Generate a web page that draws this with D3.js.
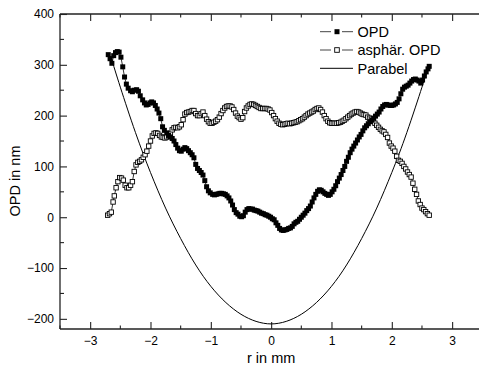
<!DOCTYPE html>
<html>
<head>
<meta charset="utf-8">
<script src="https://cdn.jsdelivr.net/npm/d3@7"></script>
<style>
  body { margin: 0; background: #fff; }
  svg { display: block; font-family: "Liberation Sans", Arial, sans-serif; }
</style>
</head>
<body>
<svg id="chart" width="479" height="369"></svg>
<script>
// Données : [r en mm, OPD en nm]
const opd = [
  [-2.70,320],[-2.67,312],[-2.64,303],[-2.61,318],[-2.58,324],[-2.55,326],[-2.52,325],[-2.49,315],
  [-2.46,296],[-2.43,276],[-2.40,262],[-2.37,254],[-2.33,249],[-2.30,247],[-2.27,250],[-2.23,251],
  [-2.20,248],[-2.17,239],[-2.13,231],[-2.10,225],[-2.07,221],[-2.04,222],[-2.01,225],[-1.98,227],
  [-1.95,225],[-1.92,220],[-1.89,213],[-1.86,205],[-1.83,194],[-1.80,178],[-1.77,171],[-1.73,166],
  [-1.70,161],[-1.67,158],[-1.64,155],[-1.61,150],[-1.58,143],[-1.55,136],[-1.52,131],[-1.49,130],
  [-1.46,134],[-1.43,137],[-1.40,135],[-1.37,131],[-1.34,127],[-1.31,123],[-1.28,117],[-1.25,104],
  [-1.22,96],[-1.19,92],[-1.16,88],[-1.13,83],[-1.10,72],[-1.07,60],[-1.04,52],[-1.01,48],
  [-0.97,45],[-0.94,44],[-0.91,45],[-0.88,46],[-0.85,47],[-0.82,47],[-0.79,46],[-0.76,45],
  [-0.73,42],[-0.70,38],[-0.67,32],[-0.64,24],[-0.61,15],[-0.58,9],[-0.55,6],[-0.52,2],
  [-0.49,1],[-0.46,3],[-0.43,10],[-0.40,15],[-0.37,17],[-0.34,16],[-0.31,16],[-0.28,14],
  [-0.25,13],[-0.22,12],[-0.19,10],[-0.16,8],[-0.13,7],[-0.10,5],[-0.07,4],[-0.04,2],
  [-0.01,0],[0.02,-3],[0.05,-5],[0.08,-11],[0.11,-16],[0.14,-22],[0.17,-25],[0.20,-26],
  [0.23,-25],[0.26,-24],[0.29,-22],[0.32,-21],[0.35,-18],[0.38,-13],[0.41,-10],[0.44,-8],
  [0.47,-4],[0.50,0],[0.53,4],[0.56,8],[0.59,13],[0.62,17],[0.65,22],[0.68,30],
  [0.71,38],[0.74,45],[0.77,51],[0.80,54],[0.83,53],[0.86,50],[0.89,47],[0.92,45],
  [0.95,43],[0.98,45],[1.01,50],[1.04,55],[1.07,62],[1.10,70],[1.13,77],[1.16,84],
  [1.19,92],[1.22,100],[1.25,110],[1.28,118],[1.31,127],[1.34,134],[1.37,140],[1.40,146],
  [1.43,152],[1.46,158],[1.49,163],[1.52,170],[1.55,176],[1.58,180],[1.61,184],[1.64,188],
  [1.67,191],[1.70,195],[1.73,199],[1.76,203],[1.79,207],[1.82,213],[1.85,218],[1.88,221],
  [1.91,222],[1.94,221],[1.97,220],[2.00,220],[2.03,221],[2.06,223],[2.09,226],[2.12,233],
  [2.15,243],[2.18,252],[2.21,256],[2.24,258],[2.27,260],[2.30,264],[2.33,268],[2.36,271],
  [2.39,272],[2.42,270],[2.45,268],[2.48,264],[2.51,270],[2.54,278],[2.57,286],[2.60,292],
  [2.62,297]
];

const asphOpd = [
  [-2.71,4],[-2.68,7],[-2.65,10],[-2.62,30],[-2.60,42],[-2.57,58],[-2.54,70],[-2.51,78],
  [-2.48,77],[-2.45,73],[-2.42,63],[-2.39,58],[-2.36,58],[-2.33,63],[-2.30,70],[-2.27,90],
  [-2.24,103],[-2.21,108],[-2.18,110],[-2.15,113],[-2.12,118],[-2.09,123],[-2.06,130],[-2.03,140],
  [-2.00,150],[-1.97,160],[-1.94,165],[-1.91,166],[-1.88,165],[-1.85,161],[-1.82,158],[-1.79,157],
  [-1.76,156],[-1.73,158],[-1.70,160],[-1.67,165],[-1.64,172],[-1.61,176],[-1.58,177],[-1.55,176],
  [-1.52,178],[-1.49,182],[-1.46,192],[-1.43,203],[-1.40,206],[-1.37,207],[-1.34,208],[-1.31,210],
  [-1.28,210],[-1.25,204],[-1.22,200],[-1.19,200],[-1.16,204],[-1.13,207],[-1.10,200],[-1.07,193],
  [-1.04,188],[-1.01,185],[-0.98,185],[-0.95,187],[-0.92,189],[-0.89,192],[-0.86,197],[-0.83,204],
  [-0.80,210],[-0.77,215],[-0.74,218],[-0.71,219],[-0.68,219],[-0.65,217],[-0.62,212],[-0.59,205],
  [-0.56,199],[-0.53,196],[-0.50,193],[-0.47,196],[-0.44,208],[-0.41,215],[-0.38,219],[-0.35,222],
  [-0.32,223],[-0.29,222],[-0.26,220],[-0.23,218],[-0.20,216],[-0.17,214],[-0.14,214],[-0.11,214],
  [-0.08,214],[-0.05,213],[-0.02,211],[0.01,206],[0.04,200],[0.07,194],[0.10,189],[0.13,185],
  [0.16,183],[0.19,182],[0.22,183],[0.25,184],[0.28,185],[0.31,184],[0.34,185],[0.37,186],
  [0.40,187],[0.43,188],[0.46,190],[0.49,192],[0.52,194],[0.55,197],[0.58,200],[0.61,203],
  [0.64,205],[0.67,207],[0.70,209],[0.73,212],[0.76,214],[0.79,215],[0.82,212],[0.85,207],
  [0.88,200],[0.91,194],[0.94,189],[0.97,186],[1.00,185],[1.03,185],[1.06,185],[1.09,185],
  [1.12,186],[1.15,187],[1.18,189],[1.21,191],[1.24,194],[1.27,197],[1.30,200],[1.33,203],
  [1.36,205],[1.39,207],[1.42,208],[1.45,207],[1.48,205],[1.51,203],[1.54,202],[1.57,201],
  [1.60,197],[1.63,195],[1.66,193],[1.69,189],[1.72,185],[1.75,181],[1.78,177],[1.81,173],
  [1.84,170],[1.87,168],[1.90,163],[1.93,157],[1.96,146],[1.99,140],[2.02,136],[2.05,130],
  [2.08,120],[2.11,112],[2.14,110],[2.17,106],[2.20,100],[2.23,95],[2.26,89],[2.29,84],
  [2.32,79],[2.35,67],[2.38,55],[2.41,45],[2.44,32],[2.47,25],[2.50,18],[2.53,15],
  [2.56,11],[2.59,7],[2.62,4]
];

const parabel = [
  [-2.66,317],[-2.5,256],[-2.25,167],[-2.0,88],[-1.75,18],[-1.5,-42],[-1.25,-94],[-1.0,-136],
  [-0.75,-168],[-0.5,-191],[-0.25,-205],[0,-210],[0.25,-205],[0.5,-191],[0.75,-168],[1.0,-136],
  [1.25,-94],[1.5,-42],[1.75,18],[2.0,88],[2.25,167],[2.5,256],[2.58,286]
];

const xTicks = [-3, -2, -1, 0, 1, 2, 3];
const yTicks = [-200, -100, 0, 100, 200, 300, 400];
const legendLabels = ["OPD", "asphär. OPD", "Parabel"];

const svg = d3.select("#chart");
const mLeft = 60, mTop = 14, mBottom = 329;

const x = d3.scaleLinear().domain([-3.5, 3.5]).range([mLeft, mLeft + 422.3]);
const y = d3.scaleLinear().domain([-220, 400]).range([mBottom, mTop]);

const axisColor = "#222";

// Axes (graduations vers l'intérieur)
const xMinor = d3.range(-3.5, 3.51, 0.5);
const yMinor = d3.range(-200, 401, 50);

const gBottom = svg.append("g").attr("transform", `translate(0,${mBottom})`)
  .call(d3.axisBottom(x).tickValues(xTicks).tickSize(-7).tickPadding(7).tickFormat(d3.format("d")));
const gTop = svg.append("g").attr("transform", `translate(0,${mTop})`)
  .call(d3.axisTop(x).tickValues(xTicks).tickSize(-7).tickFormat(""));
const gLeft = svg.append("g").attr("transform", `translate(${mLeft},0)`)
  .call(d3.axisLeft(y).tickValues(yTicks).tickSize(-7).tickPadding(6).tickFormat(d3.format("d")));

[gBottom, gTop, gLeft].forEach(g => {
  g.select(".domain").attr("stroke", axisColor).attr("stroke-width", 1.3);
  g.selectAll(".tick line").attr("stroke", axisColor).attr("stroke-width", 1.1);
  g.selectAll(".tick text").attr("fill", "#000").attr("font-size", 12)
    .attr("font-family", "Liberation Sans, Arial, sans-serif");
});
gBottom.select(".domain").attr("d", `M${mLeft},0H479`);
gTop.select(".domain").attr("d", `M${mLeft},0H479`);
gLeft.select(".domain").attr("d", `M0,${mTop}V${mBottom}`);

// graduations secondaires
const xMinorOnly = xMinor.filter(v => !xTicks.includes(v));
svg.append("g").selectAll("line")
  .data(xMinorOnly)
  .join("line")
  .attr("x1", d => x(d)).attr("x2", d => x(d))
  .attr("y1", mBottom).attr("y2", mBottom - 3.5)
  .attr("stroke", axisColor).attr("stroke-width", 1.1);
svg.append("g").selectAll("line")
  .data(xMinorOnly)
  .join("line")
  .attr("x1", d => x(d)).attr("x2", d => x(d))
  .attr("y1", mTop).attr("y2", mTop + 3.5)
  .attr("stroke", axisColor).attr("stroke-width", 1.1);
svg.append("g").selectAll("line")
  .data(yMinor.filter(v => !yTicks.includes(v)))
  .join("line")
  .attr("x1", mLeft).attr("x2", mLeft + 4)
  .attr("y1", d => y(d)).attr("y2", d => y(d))
  .attr("stroke", axisColor).attr("stroke-width", 1.1);

// Titres des axes
svg.append("text")
  .attr("x", x(0)).attr("y", 363)
  .attr("text-anchor", "middle")
  .attr("font-size", 14.5)
  .text("r in mm");
svg.append("text")
  .attr("transform", `translate(20,181) rotate(-90)`)
  .attr("text-anchor", "middle")
  .attr("font-size", 14.5)
  .text("OPD in nm");

// Courbes
const line = d3.line().x(d => x(d[0])).y(d => y(d[1]));
const smooth = d3.line().x(d => x(d[0])).y(d => y(d[1])).curve(d3.curveNatural);

svg.append("path").datum(parabel)
  .attr("d", smooth).attr("fill", "none").attr("stroke", "#000").attr("stroke-width", 1);

svg.append("path").datum(asphOpd)
  .attr("d", line).attr("fill", "none").attr("stroke", "#000").attr("stroke-width", 0.8);
svg.append("g").selectAll("rect")
  .data(asphOpd)
  .join("rect")
  .attr("x", d => x(d[0]) - 2.2).attr("y", d => y(d[1]) - 2.2)
  .attr("width", 4.4).attr("height", 4.4)
  .attr("fill", "#fff").attr("stroke", "#000").attr("stroke-width", 0.9);

svg.append("path").datum(opd)
  .attr("d", line).attr("fill", "none").attr("stroke", "#000").attr("stroke-width", 0.8);
svg.append("g").selectAll("rect")
  .data(opd)
  .join("rect")
  .attr("x", d => x(d[0]) - 2.5).attr("y", d => y(d[1]) - 2.5)
  .attr("width", 5).attr("height", 5)
  .attr("fill", "#000");

// Légende
const legend = svg.append("g").attr("transform", "translate(320,31.7)");
legendLabels.forEach((label, i) => {
  const g = legend.append("g").attr("transform", `translate(0,${i * 18.3})`);
  g.append("line").attr("x1", 0).attr("x2", 33).attr("y1", 0).attr("y2", 0)
    .attr("stroke", i === 2 ? "#000" : "#444").attr("stroke-width", 1);
  if (i === 0) {
    g.select("line").attr("stroke-dasharray", "11,11");
    g.append("rect").attr("x", 14.5).attr("y", -2.5).attr("width", 5).attr("height", 5)
      .attr("fill", "#000");
  } else if (i === 1) {
    g.select("line").attr("stroke-dasharray", "11,11");
    g.append("rect").attr("x", 14.7).attr("y", -2.3).attr("width", 4.6).attr("height", 4.6)
      .attr("fill", "#fff").attr("stroke", "#000").attr("stroke-width", 0.9);
  }
  g.append("text").attr("x", 37.5).attr("y", 5.2)
    .attr("font-size", 14.5).text(label);
});
</script>
</body>
</html>
